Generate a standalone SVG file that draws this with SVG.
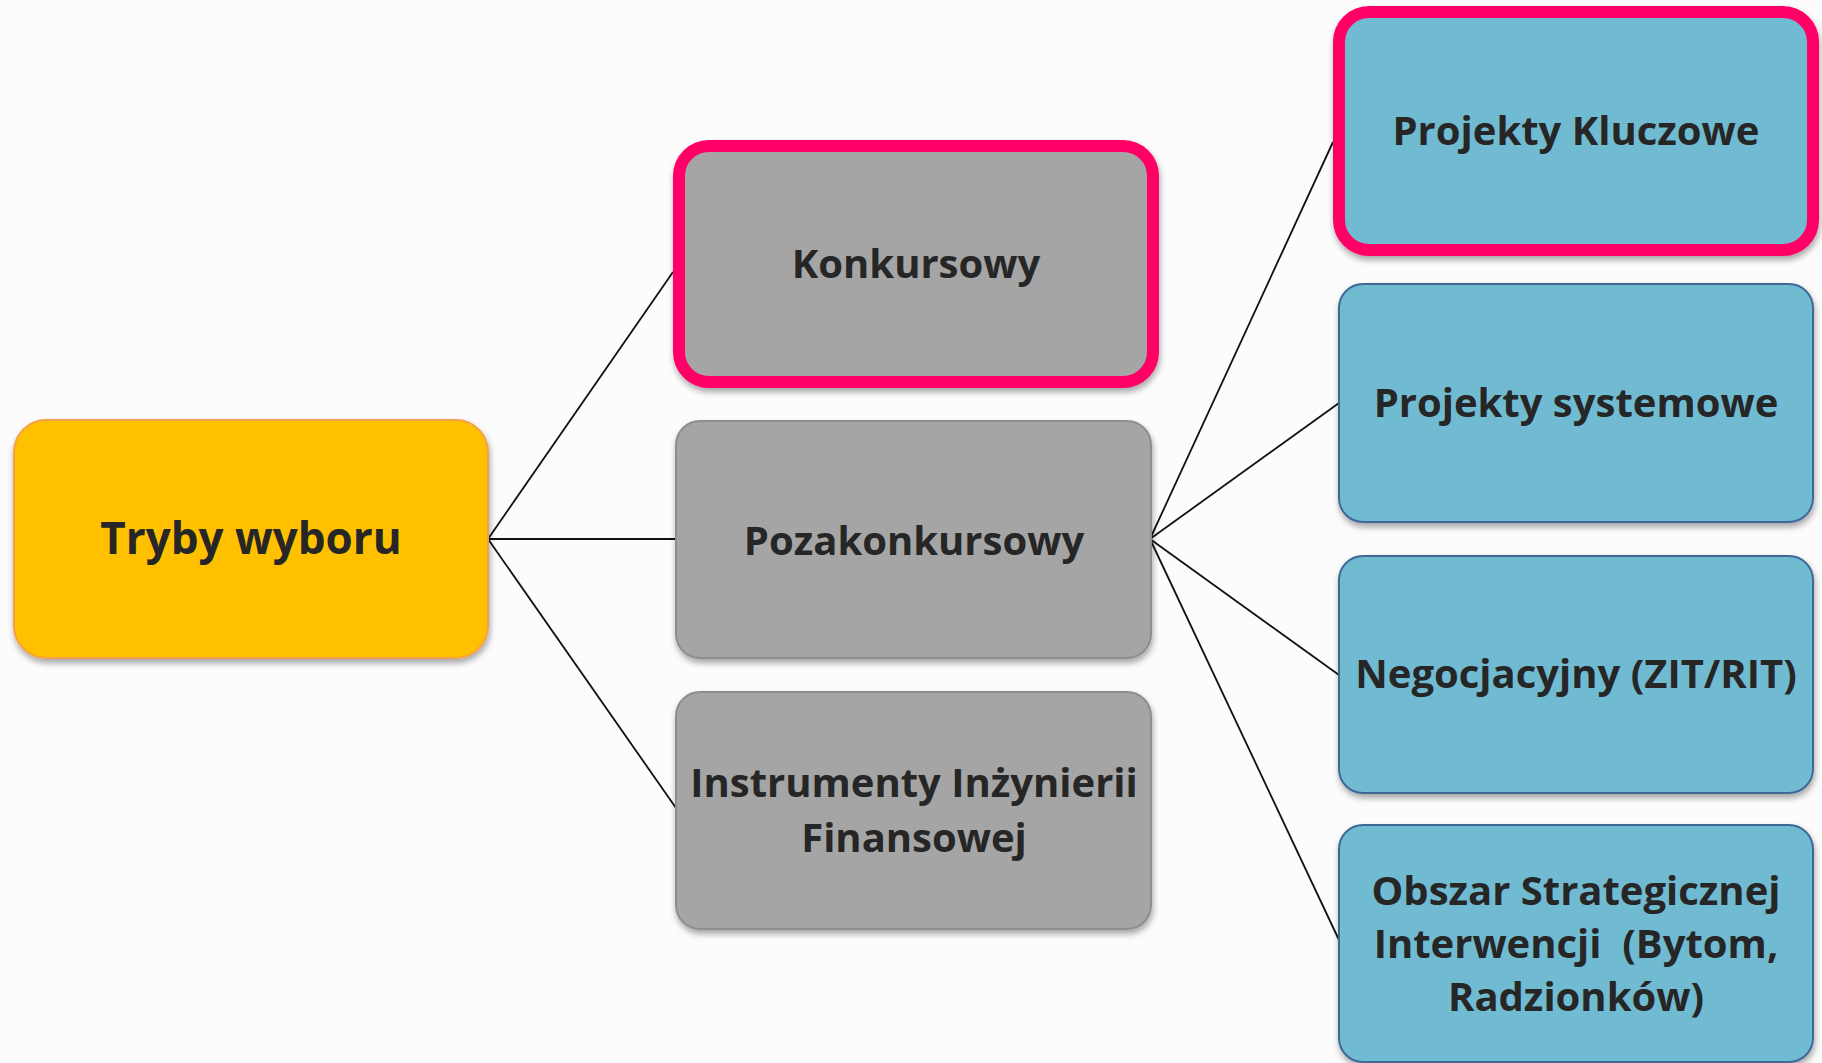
<svg xmlns="http://www.w3.org/2000/svg" width="1822" height="1063" viewBox="0 0 1822 1063">
<defs>
<filter id="sh" x="-10%" y="-10%" width="125%" height="130%">
<feDropShadow dx="1" dy="4" stdDeviation="3" flood-color="#000" flood-opacity="0.35"/>
</filter>
<style>
.lbl{font-family:"Open Sans","Noto Sans","DejaVu Sans",sans-serif;font-weight:700;font-size:40px;fill:#262626;text-anchor:middle}
.gray{fill:#A5A5A5;stroke:#8E8E8E;stroke-width:2}
.blue{fill:#71BBD2;stroke:#3F6896;stroke-width:2}
.hl{stroke:#FF0066;stroke-width:12}
.conn line{stroke:#111;stroke-width:1.8}
</style>
</defs>
<rect width="1822" height="1063" fill="#FCFCFC"/>
<g id="connectors" class="conn">
<line x1="488" y1="539" x2="673" y2="272"/>
<line x1="488" y1="539" x2="676" y2="539"/>
<line x1="488" y1="539" x2="676" y2="808"/>
<line x1="1150" y1="539" x2="1333" y2="142"/>
<line x1="1150" y1="539" x2="1339" y2="403"/>
<line x1="1150" y1="539" x2="1339" y2="675"/>
<line x1="1150" y1="539" x2="1339" y2="940"/>
</g>
<g id="tryby">
<rect x="14" y="420" width="474" height="238" rx="32" fill="#FFC000" stroke="#F4A04A" stroke-width="2" filter="url(#sh)"/>
<text class="lbl" x="251" y="554" style="font-size:44px">Tryby wyboru</text>
</g>
<g id="konkursowy">
<rect class="gray hl" x="679" y="146" width="474" height="236" rx="30" filter="url(#sh)"/>
<text class="lbl" x="916" y="278">Konkursowy</text>
</g>
<g id="pozakonkursowy">
<rect class="gray" x="676" y="421" width="475" height="237" rx="24" filter="url(#sh)"/>
<text class="lbl" x="914" y="555">Pozakonkursowy</text>
</g>
<g id="instrumenty">
<rect class="gray" x="676" y="692" width="475" height="237" rx="24" filter="url(#sh)"/>
<text class="lbl" x="914" y="797">Instrumenty Inżynierii</text>
<text class="lbl" x="914" y="852">Finansowej</text>
</g>
<g id="kluczowe">
<rect class="blue hl" x="1339" y="12" width="474" height="238" rx="30" filter="url(#sh)"/>
<text class="lbl" x="1576" y="145">Projekty Kluczowe</text>
</g>
<g id="systemowe">
<rect class="blue" x="1339" y="284" width="474" height="238" rx="24" filter="url(#sh)"/>
<text class="lbl" x="1576" y="417">Projekty systemowe</text>
</g>
<g id="negocjacyjny">
<rect class="blue" x="1339" y="556" width="474" height="237" rx="24" filter="url(#sh)"/>
<text class="lbl" x="1576" y="688">Negocjacyjny (ZIT/RIT)</text>
</g>
<g id="obszar">
<rect class="blue" x="1339" y="825" width="474" height="237" rx="24" filter="url(#sh)"/>
<text class="lbl" x="1576" y="905">Obszar Strategicznej</text>
<text class="lbl" x="1576" y="958" xml:space="preserve">Interwencji  (Bytom,</text>
<text class="lbl" x="1576" y="1011">Radzionków)</text>
</g>
</svg>
